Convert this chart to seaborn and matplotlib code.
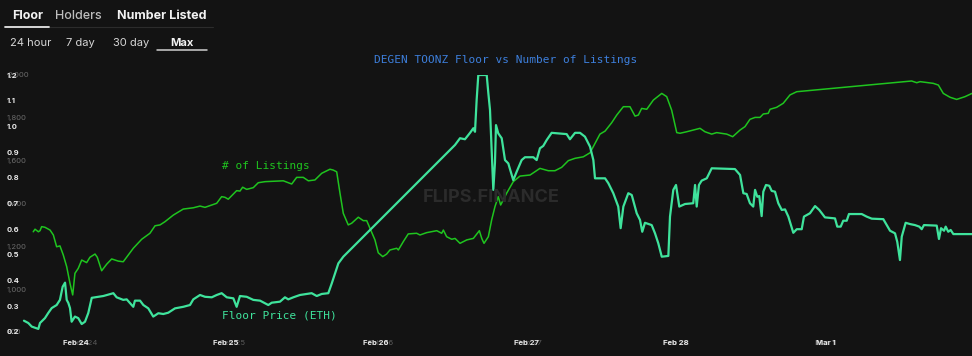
import numpy as np
import pandas as pd
import matplotlib
matplotlib.use("Agg")
import matplotlib.pyplot as plt
import seaborn as sns
from matplotlib.lines import Line2D
from matplotlib.transforms import ScaledTranslation

# ---------------- data ----------------
START = "2022-02-24"
FLOOR_DAYS = [
    -0.347, -0.318, -0.295, -0.251, -0.240, -0.207, -0.185, -0.162, -0.129, -0.107,
    -0.089, -0.073, -0.062, -0.051, -0.040, -0.029, -0.007, 0.015, 0.038, 0.060,
    0.082, 0.105, 0.182, 0.249, 0.271, 0.315, 0.338, 0.382, 0.393, 0.427,
    0.449, 0.482, 0.515, 0.549, 0.582, 0.615, 0.660, 0.715, 0.760, 0.782,
    0.827, 0.860, 0.905, 0.938, 0.971, 1.005, 1.049, 1.071, 1.093, 1.138,
    1.182, 1.227, 1.282, 1.305, 1.360, 1.393, 1.415, 1.449, 1.493, 1.571,
    1.605, 1.638, 1.682, 1.705, 1.727, 1.749, 1.782, 2.527, 2.560, 2.593,
    2.627, 2.649, 2.660, 2.671, 2.682, 2.738, 2.749, 2.760, 2.782, 2.793,
    2.800, 2.815, 2.838, 2.860, 2.882, 2.915, 2.938, 2.971, 2.993, 3.049,
    3.071, 3.093, 3.115, 3.138, 3.171, 3.271, 3.293, 3.327, 3.360, 3.393,
    3.427, 3.449, 3.460, 3.527, 3.549, 3.582, 3.615, 3.631, 3.649, 3.682,
    3.705, 3.738, 3.760, 3.775, 3.793, 3.838, 3.860, 3.882, 3.905, 3.949,
    3.960, 3.982, 4.000, 4.022, 4.060, 4.115, 4.127, 4.138, 4.153, 4.171,
    4.205, 4.238, 4.393, 4.427, 4.449, 4.471, 4.493, 4.515, 4.527, 4.542,
    4.555, 4.571, 4.582, 4.600, 4.622, 4.638, 4.660, 4.682, 4.705, 4.727,
    4.749, 4.782, 4.805, 4.838, 4.853, 4.893, 4.927, 4.955, 4.993, 5.060,
    5.075, 5.098, 5.115, 5.138, 5.153, 5.238, 5.271, 5.305, 5.382, 5.427,
    5.460, 5.475, 5.493, 5.505, 5.531, 5.560, 5.593, 5.622, 5.638, 5.653,
    5.738, 5.753, 5.767, 5.787, 5.798, 5.815, 5.831, 5.849, 5.973,
]
FLOOR_ETH = [
    0.244, 0.235, 0.221, 0.212, 0.235, 0.254, 0.274, 0.293, 0.305, 0.325,
    0.376, 0.392, 0.325, 0.313, 0.293, 0.240, 0.260, 0.254, 0.231, 0.240,
    0.274, 0.333, 0.340, 0.351, 0.335, 0.325, 0.327, 0.298, 0.322, 0.322,
    0.305, 0.292, 0.260, 0.273, 0.270, 0.275, 0.292, 0.298, 0.305, 0.327,
    0.344, 0.337, 0.335, 0.344, 0.351, 0.335, 0.331, 0.298, 0.340, 0.337,
    0.325, 0.322, 0.305, 0.314, 0.318, 0.335, 0.327, 0.335, 0.344, 0.351,
    0.340, 0.348, 0.351, 0.389, 0.428, 0.467, 0.493, 0.928, 0.954, 0.950,
    0.975, 0.993, 0.979, 1.103, 1.200, 1.200, 1.129, 1.064, 0.753, 0.858,
    1.005, 0.973, 0.954, 0.869, 0.856, 0.791, 0.824, 0.869, 0.880, 0.880,
    0.869, 0.915, 0.924, 0.947, 0.975, 0.970, 0.950, 0.975, 0.975, 0.960,
    0.921, 0.869, 0.798, 0.798, 0.779, 0.740, 0.688, 0.604, 0.688, 0.740,
    0.733, 0.662, 0.636, 0.590, 0.625, 0.616, 0.584, 0.545, 0.493, 0.496,
    0.649, 0.753, 0.772, 0.688, 0.698, 0.701, 0.772, 0.688, 0.772, 0.789,
    0.798, 0.837, 0.834, 0.811, 0.740, 0.737, 0.701, 0.688, 0.753, 0.726,
    0.729, 0.651, 0.746, 0.772, 0.769, 0.749, 0.746, 0.701, 0.675, 0.677,
    0.649, 0.586, 0.600, 0.600, 0.649, 0.662, 0.690, 0.675, 0.646, 0.642,
    0.610, 0.610, 0.633, 0.633, 0.659, 0.659, 0.649, 0.641, 0.639, 0.594,
    0.584, 0.551, 0.480, 0.571, 0.625, 0.620, 0.616, 0.610, 0.600, 0.616,
    0.614, 0.562, 0.604, 0.594, 0.610, 0.590, 0.597, 0.581, 0.581,
]
LIST_DAYS = [
    -0.285, -0.273, -0.251, -0.240, -0.229, -0.207, -0.173, -0.151, -0.129, -0.107,
    -0.085, -0.062, -0.040, -0.022, -0.007, 0.015, 0.038, 0.071, 0.093, 0.127,
    0.142, 0.171, 0.205, 0.238, 0.282, 0.315, 0.382, 0.438, 0.493, 0.527,
    0.560, 0.593, 0.649, 0.715, 0.782, 0.827, 0.860, 0.938, 0.971, 0.993,
    1.015, 1.071, 1.093, 1.111, 1.138, 1.182, 1.215, 1.260, 1.382, 1.438,
    1.471, 1.515, 1.549, 1.593, 1.638, 1.693, 1.715, 1.738, 1.760, 1.782,
    1.815, 1.838, 1.882, 1.915, 1.938, 1.960, 1.993, 2.015, 2.045, 2.071,
    2.093, 2.138, 2.149, 2.182, 2.215, 2.271, 2.293, 2.338, 2.405, 2.438,
    2.449, 2.471, 2.505, 2.527, 2.560, 2.605, 2.649, 2.689, 2.705, 2.720,
    2.749, 2.771, 2.793, 2.815, 2.831, 2.871, 2.915, 2.960, 3.027, 3.093,
    3.149, 3.193, 3.238, 3.282, 3.327, 3.382, 3.427, 3.460, 3.493, 3.527,
    3.571, 3.605, 3.649, 3.693, 3.727, 3.749, 3.771, 3.805, 3.849, 3.905,
    3.938, 3.971, 4.005, 4.027, 4.071, 4.160, 4.193, 4.238, 4.271, 4.338,
    4.378, 4.427, 4.460, 4.493, 4.527, 4.560, 4.582, 4.615, 4.627, 4.671,
    4.715, 4.760, 4.805, 5.571, 5.605, 5.627, 5.715, 5.749, 5.782, 5.827,
    5.871, 5.927, 5.973,
]
LISTINGS = [
    1268, 1280, 1268, 1273, 1292, 1289, 1276, 1253, 1198, 1202,
    1160, 1105, 1027, 973, 1074, 1097, 1136, 1124, 1149, 1164,
    1149, 1086, 1117, 1141, 1131, 1128, 1191, 1233, 1261, 1296,
    1300, 1315, 1346, 1374, 1380, 1388, 1382, 1401, 1432, 1429,
    1420, 1460, 1458, 1476, 1466, 1474, 1497, 1502, 1506, 1491,
    1522, 1522, 1506, 1510, 1541, 1560, 1556, 1548, 1448, 1354,
    1300, 1308, 1336, 1320, 1320, 1284, 1230, 1170, 1152, 1164,
    1183, 1191, 1183, 1222, 1258, 1261, 1253, 1264, 1273, 1261,
    1276, 1245, 1233, 1237, 1214, 1230, 1237, 1273, 1237, 1214,
    1245, 1323, 1385, 1432, 1393, 1448, 1502, 1528, 1533, 1564,
    1553, 1553, 1569, 1600, 1611, 1618, 1637, 1681, 1724, 1738,
    1777, 1813, 1852, 1852, 1808, 1813, 1844, 1840, 1883, 1914,
    1899, 1836, 1731, 1728, 1735, 1751, 1735, 1724, 1731, 1724,
    1712, 1743, 1759, 1793, 1802, 1802, 1818, 1821, 1840, 1849,
    1868, 1907, 1922, 1972, 1964, 1969, 1961, 1953, 1914, 1896,
    1886, 1899, 1914,
]
DAY_TICKS = ["2022-02-24", "2022-02-25", "2022-02-26", "2022-02-27", "2022-02-28", "2022-03-01"]
DAY_LABELS = ["Feb 24", "Feb 25", "Feb 26", "Feb 27", "Feb 28", "Mar 1"]
FLOOR_TICKS = [0.2, 0.3, 0.4, 0.5, 0.6, 0.7, 0.8, 0.9, 1.0, 1.1, 1.2]
LIST_TICKS = [800, 1000, 1200, 1400, 1600, 1800, 2000]

t0 = pd.Timestamp(START)
df_floor = pd.DataFrame({"time": t0 + pd.to_timedelta(FLOOR_DAYS, unit="D"), "floor": FLOOR_ETH})
df_list = pd.DataFrame({"time": t0 + pd.to_timedelta(LIST_DAYS, unit="D"), "listings": LISTINGS})

# ---------------- style ----------------
BG = "#131313"
MINT = "#3fe39c"
GREEN = "#1fc41f"
W, H = 972, 356

sns.set_theme(style="dark", rc={"axes.facecolor": BG, "figure.facecolor": BG,
                                "axes.grid": False})
plt.rcParams["font.family"] = ["Inter", "DejaVu Sans"]

fig = plt.figure(figsize=(W / 100, H / 100), dpi=100, facecolor=BG)
rect = [20 / W, 24 / H, 952 / W, 257 / H]

ax_l = fig.add_axes(rect, facecolor=BG)
ax_f = fig.add_axes(rect, facecolor="none")

sns.lineplot(data=df_list, x="time", y="listings", ax=ax_l, color=GREEN,
             linewidth=1.1, estimator=None)
sns.lineplot(data=df_floor, x="time", y="floor", ax=ax_f, color=MINT,
             linewidth=1.6, estimator=None)

xmin = t0 + pd.Timedelta(days=-0.3733)
xmax = t0 + pd.Timedelta(days=5.9733)
ticks = pd.to_datetime(DAY_TICKS)
for ax in (ax_l, ax_f):
    ax.set_xlim(xmin, xmax)
    ax.set_xlabel("")
    ax.set_ylabel("")
    for s in ax.spines.values():
        s.set_visible(False)
    ax.set_xticks(ticks)
    ax.set_xticklabels(DAY_LABELS)

ax_l.set_ylim(800, 2000)
ax_l.set_yticks(LIST_TICKS)
ax_l.set_yticklabels([f"{v:,}" for v in LIST_TICKS])
ax_f.set_ylim(0.2, 1.2)
ax_f.set_yticks(FLOOR_TICKS)
ax_f.set_yticklabels([f"{v:.1f}" for v in FLOOR_TICKS])

# listings axis (ghost labels, grey)
ax_l.tick_params(axis="y", length=0, pad=9.4, labelsize=5.5, labelcolor="#6a6a6a")
ax_l.tick_params(axis="x", length=0, pad=6.0, labelsize=5.5, labelcolor="#5a5a5a")
for lab in ax_l.get_yticklabels():
    lab.set_horizontalalignment("left")
for i, lab in enumerate(ax_l.get_xticklabels()):
    dx = (9 - 2 * i) / 72.0 * 0.72
    lab.set_transform(lab.get_transform() + ScaledTranslation(dx, 0, fig.dpi_scale_trans))

# floor axis (white bold labels)
ax_f.tick_params(axis="y", length=0, pad=9.4, labelsize=5.5, labelcolor="#e8e8e8")
ax_f.tick_params(axis="x", length=0, pad=6.0, labelsize=5.5, labelcolor="#e8e8e8")
for lab in ax_f.get_yticklabels() + ax_f.get_xticklabels():
    lab.set_fontweight("bold")
for lab in ax_f.get_yticklabels():
    lab.set_horizontalalignment("left")


def fx(px):
    return px / W


def fy(py):
    return 1 - py / H


mono = ["DejaVu Sans Mono"]

# title and series annotations
fig.text(fx(506), fy(60), "DEGEN TOONZ Floor vs Number of Listings", family=mono,
         fontsize=8, color="#3d7fdc", ha="center", va="center")
fig.text(fx(222), fy(166), "# of Listings", family=mono, fontsize=8, color=GREEN,
         ha="left", va="center")
fig.text(fx(222), fy(316), "Floor Price (ETH)", family=mono, fontsize=8, color=MINT,
         ha="left", va="center")
# watermark
fig.text(fx(491), fy(198), "FLIPS.FINANCE", fontsize=13, fontweight="bold",
         color="#2b2b2b", ha="center", va="center", zorder=0)

# header tabs
fig.text(fx(12), fy(16), "Floor", fontsize=9, fontweight="bold", color="#f2f2f2",
         ha="left", va="center")
fig.text(fx(55), fy(16), "Holders", fontsize=9, fontweight="medium", color="#bdbdbd",
         ha="left", va="center")
fig.text(fx(117), fy(16), "Number Listed", fontsize=9, fontweight="bold",
         color="#f2f2f2", ha="left", va="center")
fig.add_artist(Line2D([fx(49), fx(213)], [fy(27), fy(27)], transform=fig.transFigure,
                      color="#2c2c2c", linewidth=0.8))
fig.add_artist(Line2D([fx(5), fx(49)], [fy(27), fy(27)], transform=fig.transFigure,
                      color="#e6e6e6", linewidth=1.3))

for txt, px, wt, col in [("24 hour", 10, "normal", "#d6d6d6"),
                         ("7 day", 66, "normal", "#d6d6d6"),
                         ("30 day", 113, "normal", "#d6d6d6"),
                         ("Max", 170, "bold", "#f2f2f2")]:
    fig.text(fx(px), fy(43), txt, fontsize=8, fontweight=wt, color=col,
             ha="left", va="center")
fig.add_artist(Line2D([fx(157), fx(207)], [fy(50), fy(50)], transform=fig.transFigure,
                      color="#cfcfcf", linewidth=1.1))

fig.savefig("out.png", dpi=100, facecolor=BG)
